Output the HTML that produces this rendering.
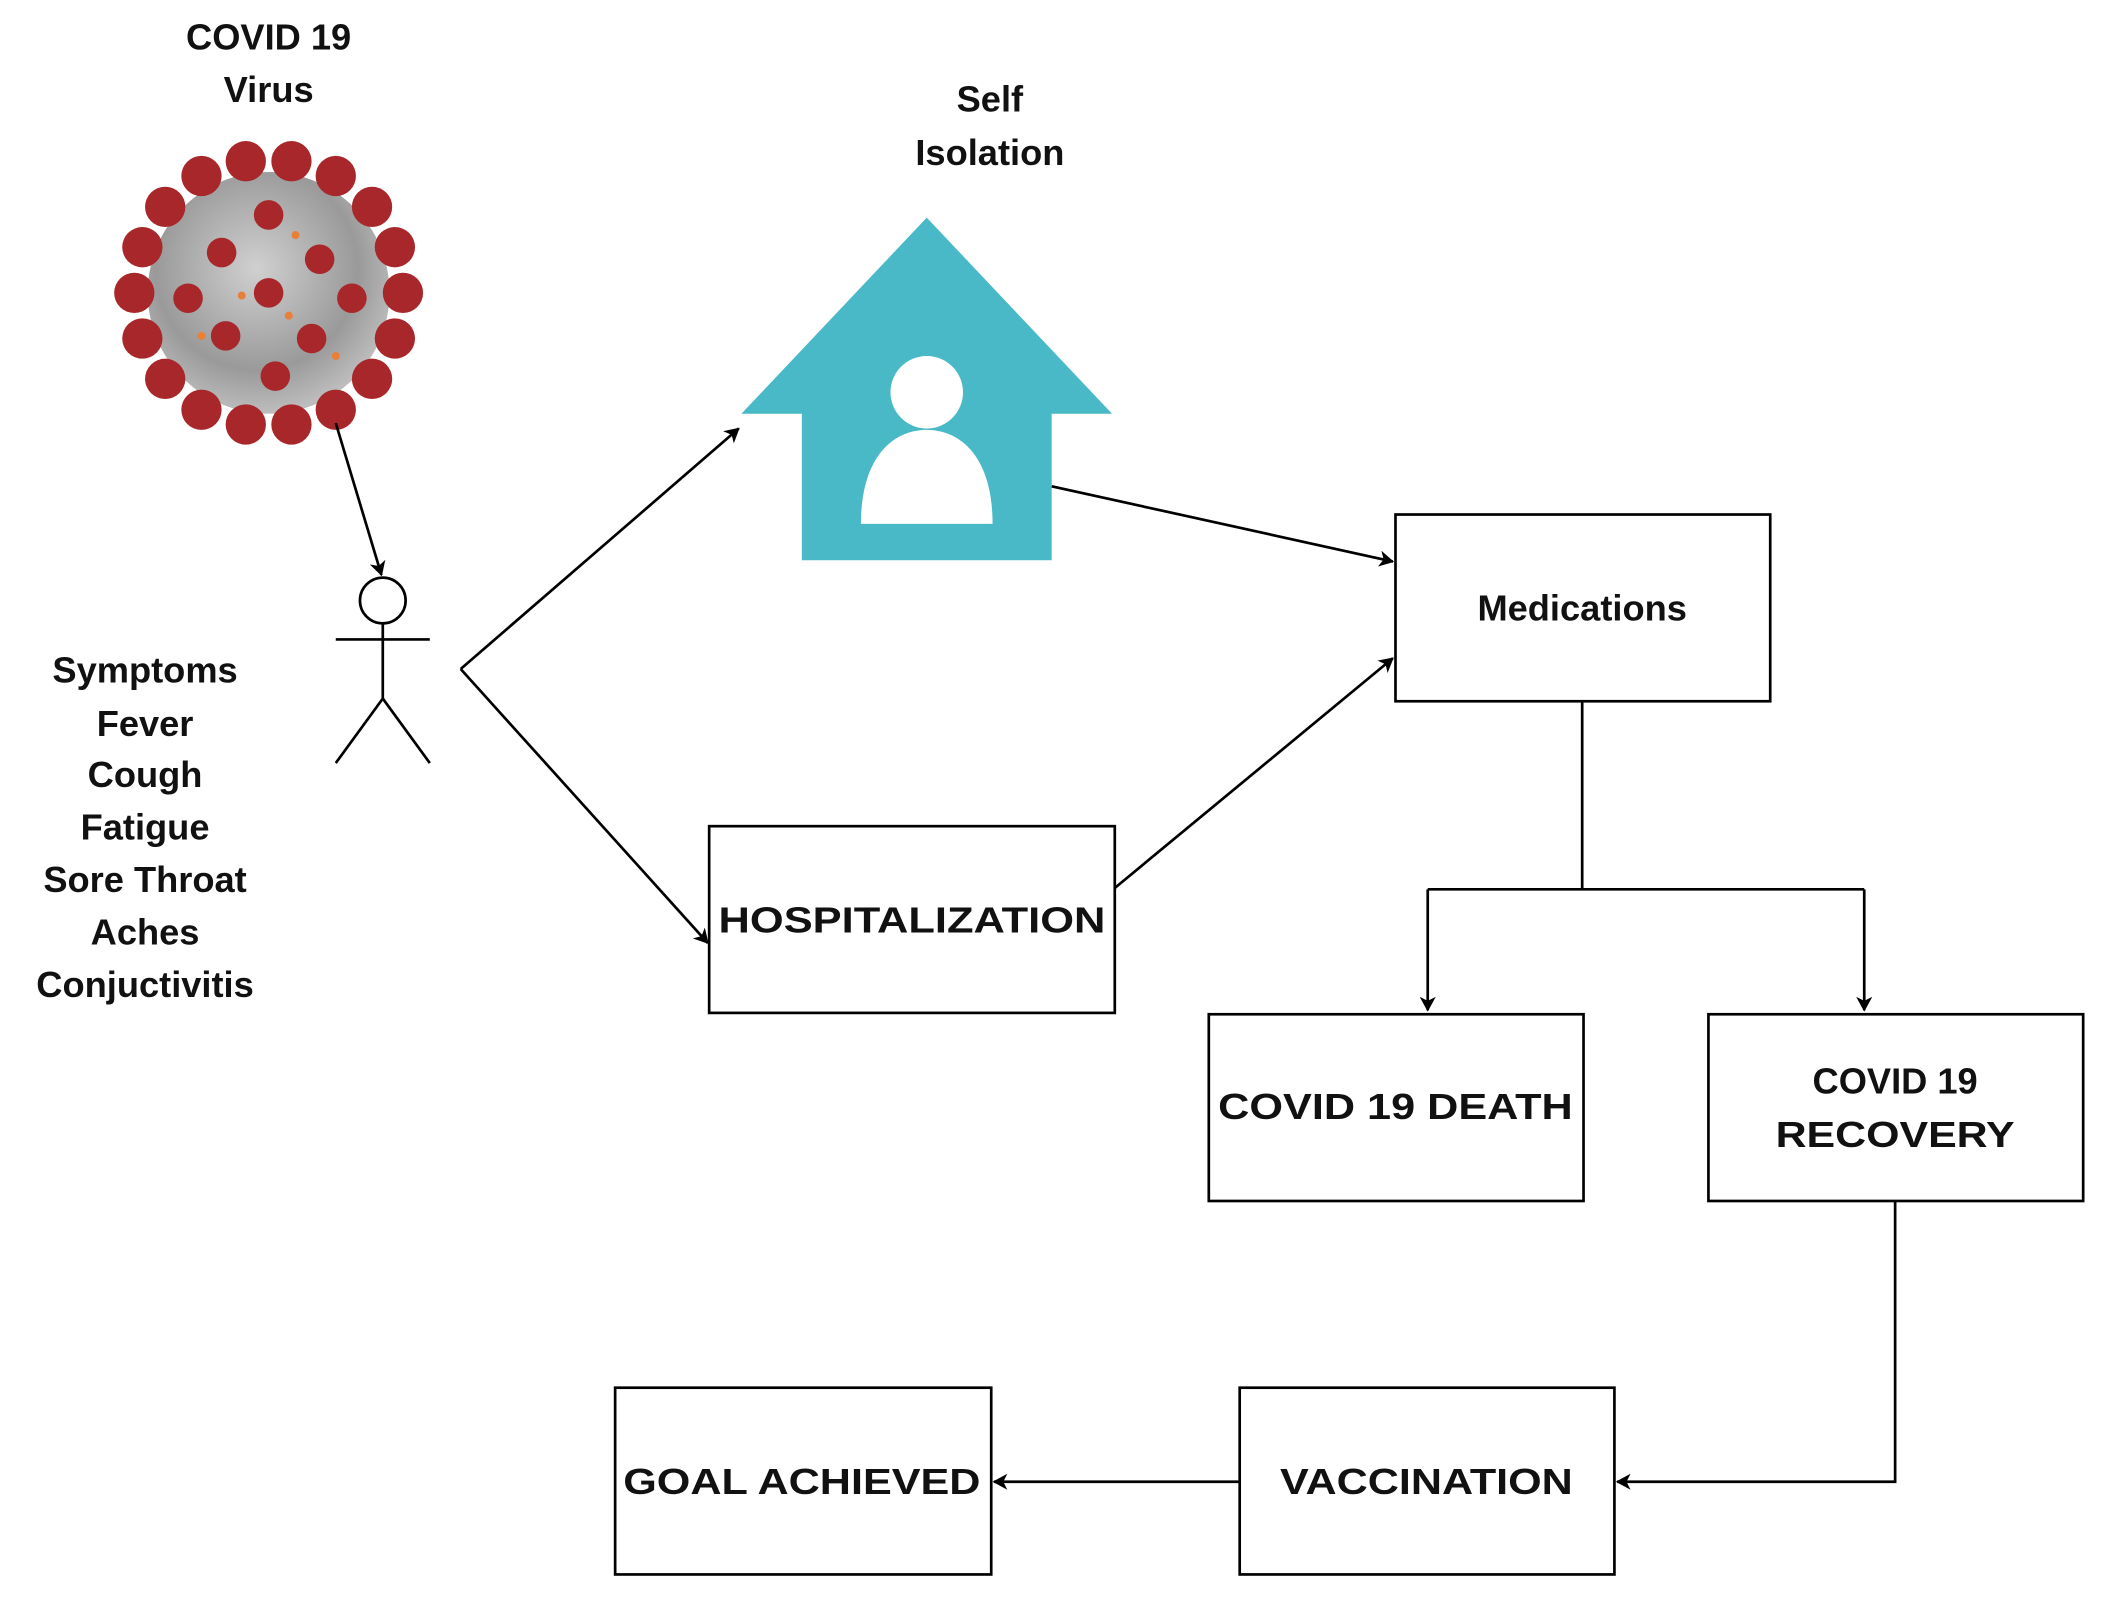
<!DOCTYPE html>
<html><head><meta charset="utf-8"><style>
html,body{margin:0;padding:0;background:#fff}
svg{display:block}
text{font-family:"Liberation Sans",Arial,sans-serif;font-weight:bold;fill:#111;text-anchor:middle}
</style></head><body>
<svg width="2106" height="1604" viewBox="0 0 1568 1194" preserveAspectRatio="none" xmlns="http://www.w3.org/2000/svg">
<defs>
<marker id="a" markerWidth="12" markerHeight="12" refX="10" refY="6" orient="auto" markerUnits="userSpaceOnUse"><path d="M0,0 L11,6 L0,12 L3,6 z" fill="#000"/></marker>
<radialGradient id="g" cx="45%" cy="40%" r="60%"><stop offset="0" stop-color="#d0d0d0"/><stop offset="0.7" stop-color="#9a9a9a"/><stop offset="1" stop-color="#bdbdbd"/></radialGradient>
</defs>
<text x="200" y="37" font-size="27">COVID 19</text>
<text x="200" y="76" font-size="27">Virus</text>
<!-- virus -->
<circle cx="200" cy="218" r="90" fill="url(#g)"/>
<g fill="#a8272a">
<circle cx="300" cy="218" r="15"/><circle cx="294" cy="252" r="15"/><circle cx="277" cy="282" r="15"/><circle cx="250" cy="305" r="15"/><circle cx="217" cy="316" r="15"/><circle cx="183" cy="316" r="15"/><circle cx="150" cy="305" r="15"/><circle cx="123" cy="282" r="15"/><circle cx="106" cy="252" r="15"/><circle cx="100" cy="218" r="15"/><circle cx="106" cy="184" r="15"/><circle cx="123" cy="154" r="15"/><circle cx="150" cy="131" r="15"/><circle cx="183" cy="120" r="15"/><circle cx="217" cy="120" r="15"/><circle cx="250" cy="131" r="15"/><circle cx="277" cy="154" r="15"/><circle cx="294" cy="184" r="15"/>
<circle cx="200" cy="218" r="11"/><circle cx="165" cy="188" r="11"/><circle cx="238" cy="193" r="11"/><circle cx="168" cy="250" r="11"/><circle cx="232" cy="252" r="11"/><circle cx="200" cy="160" r="11"/><circle cx="205" cy="280" r="11"/><circle cx="140" cy="222" r="11"/><circle cx="262" cy="222" r="11"/>
</g>
<g fill="#e8803a"><circle cx="180" cy="220" r="3"/><circle cx="220" cy="175" r="3"/><circle cx="150" cy="250" r="3"/><circle cx="250" cy="265" r="3"/><circle cx="215" cy="235" r="3"/></g>
<g stroke="#000" stroke-width="2" fill="none">
<line x1="250" y1="315" x2="284" y2="428" marker-end="url(#a)"/>
<circle cx="285" cy="447" r="17" fill="#fff"/>
<line x1="285" y1="464" x2="285" y2="520"/>
<line x1="250" y1="476" x2="320" y2="476"/>
<polyline points="250,568 285,520 320,568"/>
<line x1="343" y1="498" x2="550" y2="319" marker-end="url(#a)"/>
<line x1="343" y1="498" x2="527" y2="702" marker-end="url(#a)"/>
<line x1="783" y1="362" x2="1037" y2="418" marker-end="url(#a)"/>
<line x1="830" y1="661" x2="1037" y2="490" marker-end="url(#a)"/>
<polyline points="1178,522 1178,662"/>
<polyline points="1063,751 1063,662 1388,662 1388,751" stroke="none"/>
<line x1="1063" y1="662" x2="1388" y2="662"/>
<line x1="1063" y1="662" x2="1063" y2="752" marker-end="url(#a)"/>
<line x1="1388" y1="662" x2="1388" y2="752" marker-end="url(#a)"/>
<polyline points="1411,894 1411,1103 1204,1103" marker-end="url(#a)"/>
<line x1="923" y1="1103" x2="740" y2="1103" marker-end="url(#a)"/>
<rect x="1039" y="383" width="279" height="139"/>
<rect x="528" y="615" width="302" height="139"/>
<rect x="900" y="755" width="279" height="139"/>
<rect x="1272" y="755" width="279" height="139"/>
<rect x="923" y="1033" width="279" height="139"/>
<rect x="458" y="1033" width="280" height="139"/>
</g>
<!-- house -->
<text x="737" y="83" font-size="27">Self</text>
<text x="737" y="123" font-size="27">Isolation</text>
<polygon points="690,162 828,308 783,308 783,417 597,417 597,308 552,308" fill="#4ab9c7"/>
<circle cx="690" cy="292" r="27" fill="#fff"/>
<path d="M641,390 C641,340 665,320 690,320 C715,320 739,340 739,390 Z" fill="#fff"/>
<g font-size="27">
<text x="108" y="508">Symptoms</text>
<text x="108" y="548">Fever</text>
<text x="108" y="586">Cough</text>
<text x="108" y="625">Fatigue</text>
<text x="108" y="664">Sore Throat</text>
<text x="108" y="703">Aches</text>
<text x="108" y="742">Conjuctivitis</text>
<text x="1178" y="462">Medications</text>
<text x="679" y="694" textLength="288" lengthAdjust="spacingAndGlyphs">HOSPITALIZATION</text>
<text x="1039" y="833" textLength="264" lengthAdjust="spacingAndGlyphs">COVID 19 DEATH</text>
<text x="1411" y="814">COVID 19</text>
<text x="1411" y="854" textLength="178" lengthAdjust="spacingAndGlyphs">RECOVERY</text>
<text x="1062" y="1112" textLength="218" lengthAdjust="spacingAndGlyphs">VACCINATION</text>
<text x="597" y="1112" textLength="266" lengthAdjust="spacingAndGlyphs">GOAL ACHIEVED</text>
</g>
</svg>
</body></html>
